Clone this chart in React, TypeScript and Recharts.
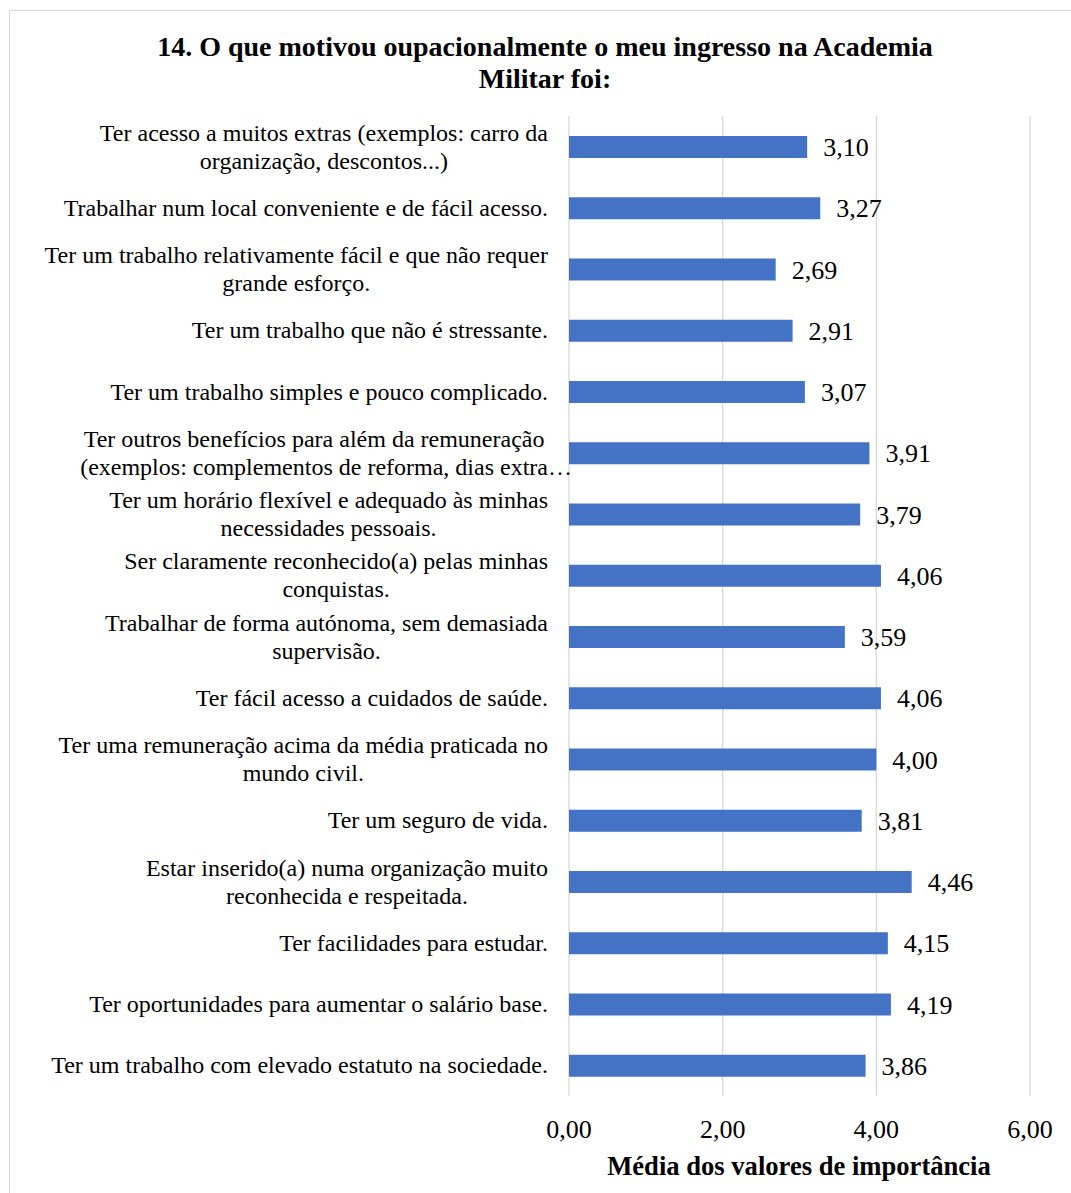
import React from 'react';
import { BarChart, Bar, XAxis, YAxis, CartesianGrid, LabelList } from 'recharts';

const TITLE_LINES = ['14. O que motivou oupacionalmente o meu ingresso na Academia', 'Militar foi:'];
const X_TITLE = 'Média dos valores de importância';

const categories = [
  'Ter acesso a muitos extras (exemplos: carro da\norganização, descontos...)',
  'Trabalhar num local conveniente e de fácil acesso.',
  'Ter um trabalho relativamente fácil e que não requer\ngrande esforço.',
  'Ter um trabalho que não é stressante.',
  'Ter um trabalho simples e pouco complicado.',
  'Ter outros benefícios para além da remuneração\n(exemplos: complementos de reforma, dias extra…',
  'Ter um horário flexível e adequado às minhas\nnecessidades pessoais.',
  'Ser claramente reconhecido(a) pelas minhas\nconquistas.',
  'Trabalhar de forma autónoma, sem demasiada\nsupervisão.',
  'Ter fácil acesso a cuidados de saúde.',
  'Ter uma remuneração acima da média praticada no\nmundo civil.',
  'Ter um seguro de vida.',
  'Estar inserido(a) numa organização muito\nreconhecida e respeitada.',
  'Ter facilidades para estudar.',
  'Ter oportunidades para aumentar o salário base.',
  'Ter um trabalho com elevado estatuto na sociedade.',
];

const values = [3.10, 3.27, 2.69, 2.91, 3.07, 3.91, 3.79, 4.06, 3.59, 4.06, 4.00, 3.81, 4.46, 4.15, 4.19, 3.86];

const xTicks = [0, 2, 4, 6];

const data = categories.map((name, i) => ({ name, value: values[i] }));

const FONT = '"Liberation Serif", "Times New Roman", serif';
const CAT_SIZE = 24;
const LABEL_RIGHT = 548;

let ctx: CanvasRenderingContext2D | null = null;
const measure = (s: string) => {
  if (!ctx && typeof document !== 'undefined') {
    ctx = document.createElement('canvas').getContext('2d');
  }
  if (ctx) {
    ctx.font = `${CAT_SIZE}px "Liberation Serif"`;
    return ctx.measureText(s).width;
  }
  return s.length * CAT_SIZE * 0.45;
};

const fmt = (v: number) => v.toFixed(2).replace('.', ',');

const CatTick = (props: any) => {
  const { y, payload } = props;
  const lines = String(payload.value).split('\n');
  if (lines.length === 1) {
    return (
      <text x={LABEL_RIGHT} y={y + 8} textAnchor="end" fontFamily={FONT} fontSize={CAT_SIZE} fill="#000">
        {lines[0]}
      </text>
    );
  }
  const widths = lines.map((l) => measure(l.replace(/…$/, '')));
  const block = Math.max(...widths);
  const cx = LABEL_RIGHT - block / 2;
  return (
    <g>
      {lines.map((l, i) => (
        <text key={i} x={cx - widths[i] / 2} y={y - 6 + i * 28} textAnchor="start" fontFamily={FONT} fontSize={CAT_SIZE} fill="#000">
          {l}
        </text>
      ))}
    </g>
  );
};

const XTick = (props: any) => {
  const { x, payload } = props;
  return (
    <text x={x} y={1138} textAnchor="middle" fontFamily={FONT} fontSize={26} fill="#000">
      {fmt(payload.value)}
    </text>
  );
};

export default function App() {
  return (
    <div style={{ position: 'absolute', left: 0, top: 0, width: 1071, height: 1193, overflow: 'hidden', background: '#fff' }}>
      <div style={{ position: 'absolute', left: 9, top: 10, width: 1200, height: 1300, border: '1px solid #d9d9d9' }} />
      <div style={{ position: 'absolute', left: 0, top: 0 }}>
        <BarChart
          width={1071}
          height={1193}
          data={data}
          layout="vertical"
          margin={{ top: 116, right: 41, bottom: 0, left: 0 }}
          barSize={22}
        >
          <CartesianGrid horizontal={false} vertical={true} stroke="#d9d9d9" strokeWidth={1.3} />
          <XAxis
            type="number"
            domain={[0, 6]}
            ticks={xTicks}
            axisLine={false}
            tickLine={false}
            height={97}
            tick={<XTick />}
            interval={0}
          />
          <YAxis
            type="category"
            dataKey="name"
            width={569}
            axisLine={false}
            tickLine={false}
            tick={<CatTick />}
            interval={0}
          />
          <Bar dataKey="value" fill="#4472C4" isAnimationActive={false}>
            <LabelList
              dataKey="value"
              position="right"
              offset={16}
              formatter={(v: any) => fmt(Number(v))}
              style={{ fontFamily: FONT, fontSize: 26, fill: '#000' }}
            />
          </Bar>
          <text x={545} y={56} textAnchor="middle" fontFamily={FONT} fontWeight="bold" fontSize={28} fill="#000">
            {TITLE_LINES[0]}
          </text>
          <text x={545} y={88} textAnchor="middle" fontFamily={FONT} fontWeight="bold" fontSize={28} fill="#000">
            {TITLE_LINES[1]}
          </text>
          <text x={799} y={1175} textAnchor="middle" fontFamily={FONT} fontWeight="bold" fontSize={26.6} fill="#000">
            {X_TITLE}
          </text>
        </BarChart>
      </div>
    </div>
  );
}
